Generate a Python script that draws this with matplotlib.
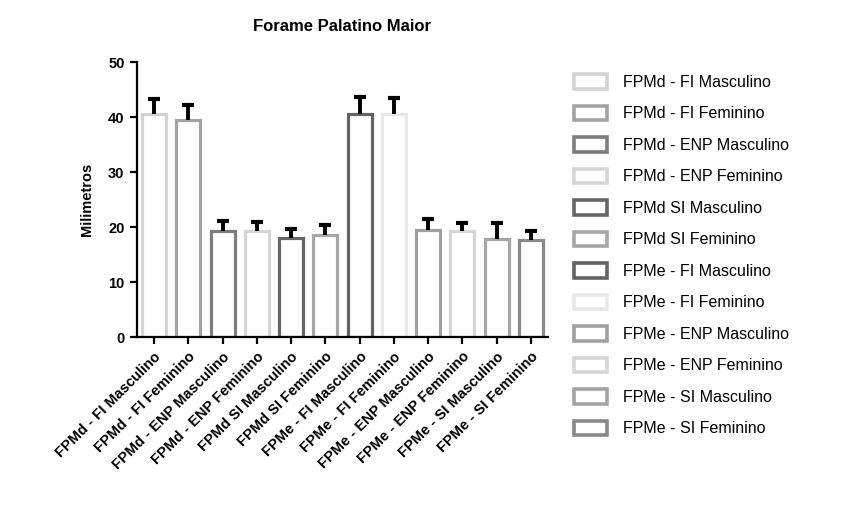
import matplotlib
matplotlib.use("Agg")
import matplotlib.pyplot as plt
from matplotlib.patches import Patch
import numpy as np

# Forame Palatino Maior: mean (mm) and upper error per group
groups = [
    "FPMd - FI Masculino", "FPMd - FI Feminino",
    "FPMd - ENP Masculino", "FPMd - ENP Feminino",
    "FPMd SI Masculino", "FPMd SI Feminino",
    "FPMe - FI Masculino", "FPMe - FI Feminino",
    "FPMe - ENP Masculino", "FPMe - ENP Feminino",
    "FPMe - SI Masculino", "FPMe - SI Feminino",
]
means = [40.5, 39.4, 19.3, 19.3, 18.1, 18.5, 40.5, 40.6, 19.4, 19.2, 17.9, 17.6]
errors = [2.8, 2.8, 1.8, 1.6, 1.5, 1.9, 3.2, 2.9, 2.0, 1.5, 2.9, 1.7]
yticks = [0, 10, 20, 30, 40, 50]

edge_colors = [
    "#d3d3d3", "#a3a3a3", "#7d7d7d", "#d6d6d6", "#666666", "#a6a6a6",
    "#636363", "#e8e8e8", "#a0a0a0", "#d6d6d6", "#a4a4a4", "#898989",
]

plt.rcParams["font.family"] = ["Liberation Sans", "DejaVu Sans"]

fig = plt.figure(figsize=(8.53, 5.17), dpi=100)
ax = fig.add_axes([0.1606, 0.348, 0.4818, 0.532])

x = np.arange(len(groups))
ax.bar(x, means, width=0.7, facecolor="white", edgecolor=edge_colors,
       linewidth=2.3, zorder=2)
_, caps, _ = ax.errorbar(x, means, yerr=[np.zeros(len(errors)), errors],
                         fmt="none", ecolor="black", elinewidth=2.8,
                         capsize=4, capthick=3, zorder=3)
# only the upper cap, like the original
caps[0].set_visible(False)

ax.set_xlim(-0.5, len(groups) - 0.5)
ax.set_ylim(0, 50)
ax.set_yticks(yticks)
ax.set_xticks(x)
ax.set_xticklabels(groups, rotation=45, ha="right", rotation_mode="anchor",
                   fontsize=10.5, fontweight="bold")
for lbl in ax.get_yticklabels():
    lbl.set_fontweight("bold")
    lbl.set_fontsize(10.5)

for s in ("top", "right"):
    ax.spines[s].set_visible(False)
for s in ("left", "bottom"):
    ax.spines[s].set_linewidth(1.6)
ax.tick_params(axis="both", direction="out", length=5, width=1.6, pad=4)

ax.set_ylabel("Milimetros", fontsize=10.5, fontweight="bold", labelpad=10)
ax.set_title("Forame Palatino Maior", fontsize=12, fontweight="bold", pad=22)

handles = [Patch(facecolor="white", edgecolor=c, linewidth=2.6) for c in edge_colors]
fig.legend(handles, groups, loc="upper left",
           bbox_to_anchor=(574 / 853, 1 - 74 / 517), frameon=False,
           fontsize=11.5, handlelength=2.05, handleheight=1.05,
           handletextpad=1.0, labelspacing=0.98, borderpad=0,
           borderaxespad=0)

fig.savefig("out.png", dpi=100, facecolor="white")
